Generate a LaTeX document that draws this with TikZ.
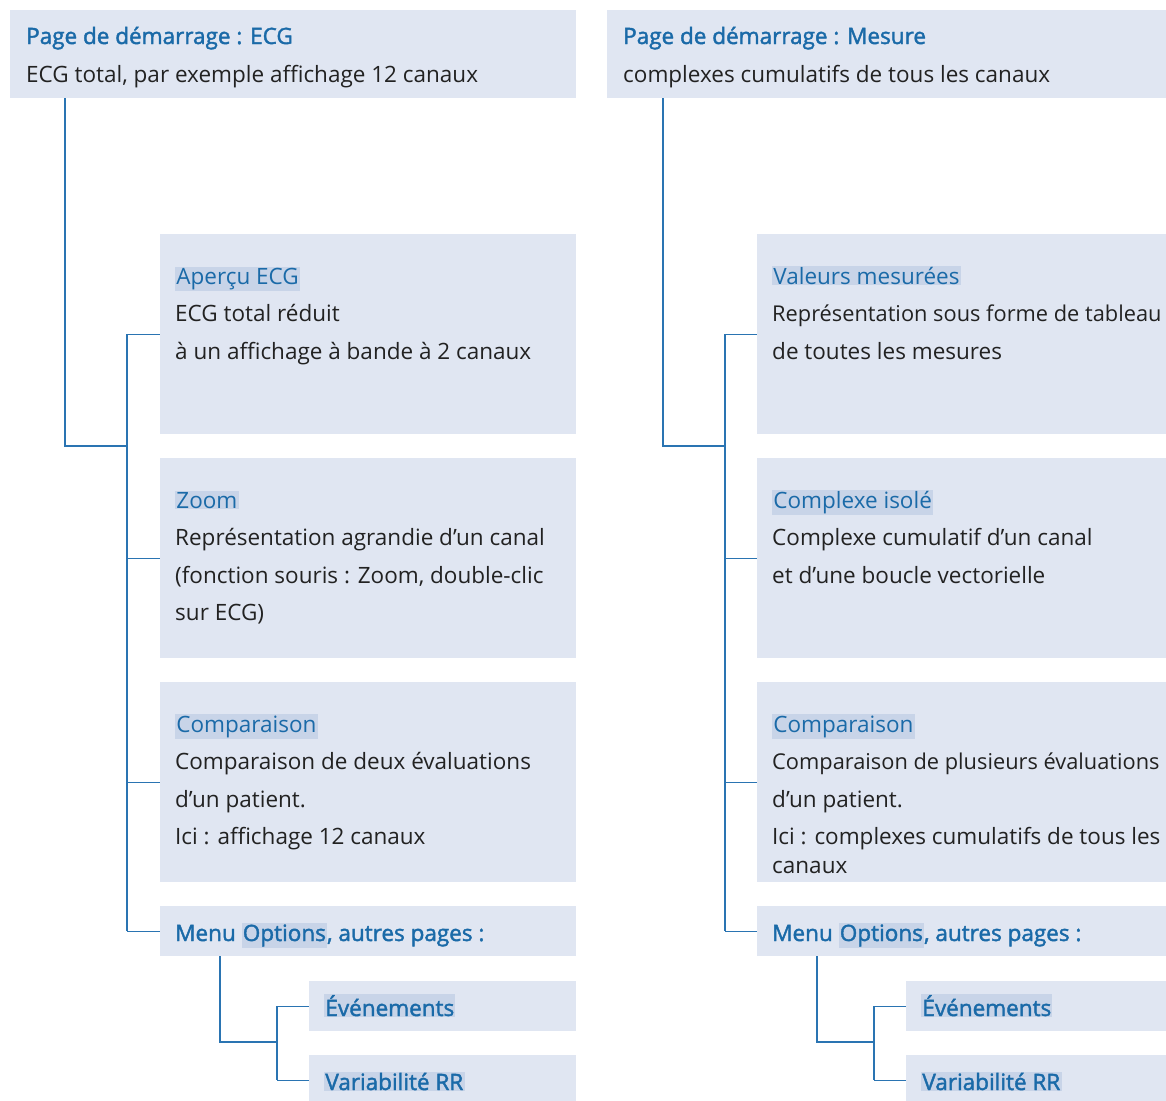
\documentclass[tikz,border=0pt]{standalone}
\usepackage{fontspec}
\setmainfont{Open Sans}
\newfontfamily\semibold[FakeBold=1.8]{Open Sans}
\usepackage{xcolor}
\usetikzlibrary{positioning}

\definecolor{panelfill}{HTML}{E0E6F2}
\definecolor{headfill}{HTML}{C8D4E8}
\definecolor{headblue}{HTML}{1A6AA8}
\definecolor{linkblue}{HTML}{2A74B2}
\definecolor{bodytext}{HTML}{222222}

\newcommand{\hlbox}[1]{{\setlength{\fboxsep}{1.2pt}\colorbox{headfill}{#1}}}
\newcommand{\tightline}[1]{{\fontsize{21.8pt}{37.5pt}\selectfont #1}}

\begin{document}
\begin{tikzpicture}[x=1pt, y=-1pt,
    panel/.style={fill=panelfill, inner sep=0pt, anchor=north west},
    txt/.style={inner sep=0pt, anchor=base west, align=left, text=bodytext,
        font=\fontsize{22.5pt}{37.5pt}\selectfont},
    head/.style={txt, text=headblue},
    link/.style={draw=linkblue, line width=1.4pt}]

    \useasboundingbox[fill=white] (0,0) rectangle (1166,1100);

    % =================================================================
    % COLONNE 1 : PAGE DE DEMARRAGE ECG
    % =================================================================
    \begin{scope}
        % Cadres
        \node[panel, minimum width=566, minimum height=88] (lstart) at (10,10) {};
        \node[panel, minimum width=416, minimum height=200] (lapercu) at (160,234) {};
        \node[panel, minimum width=416, minimum height=200] (lzoom) at (160,458) {};
        \node[panel, minimum width=416, minimum height=200] (lcomp) at (160,682) {};
        \node[panel, minimum width=416, minimum height=50] (lmenu) at (160,906) {};
        \node[panel, minimum width=267, minimum height=50] (levt) at (309,981) {};
        \node[panel, minimum width=267, minimum height=50] (lrr) at (309,1055) {};

        % Textes (ancre : ligne de base de la derniere ligne)
        \node[head] (lstart-t) at (26,44) {\semibold Page de démarrage : ECG};
        \node[txt] (lstart-b) at (26,82) {ECG total, par exemple affichage 12 canaux};
        \node[txt] (lapercu-t) at (175,359) {\textcolor{headblue}{\hlbox{Aperçu ECG}}\\
            ECG total réduit\\ à un affichage à bande à 2 canaux};
        \node[txt] (lzoom-t) at (175,620.5) {\textcolor{headblue}{\hlbox{Zoom}}\\
            Représentation agrandie d’un canal\\ (fonction souris : Zoom, double-clic\\ sur ECG)};
        \node[txt] (lcomp-t) at (175,844.5) {\textcolor{headblue}{\hlbox{Comparaison}}\\
            Comparaison de deux évaluations\\ d’un patient.\\ Ici : affichage 12 canaux};
        \node[head] (lmenu-t) at (175,941) {\semibold Menu \hlbox{Options}, autres pages :};
        \node[head] (levt-t) at (324,1016) {\semibold\hlbox{Événements}};
        \node[head] (lrr-t) at (324,1090) {\semibold\hlbox{Variabilité RR}};

        % Liaisons
        \coordinate (ljoin) at (127,446);
        \coordinate (lsub) at (277,1042);
        \draw[link] ([xshift=55]lstart.south west) |- (ljoin);
        \draw[link] (lapercu.west -| ljoin) -- (lmenu.west -| ljoin);
        \foreach \n in {lapercu, lzoom, lcomp, lmenu}
            \draw[link] (\n.west -| ljoin) -- (\n.west);
        \draw[link] ([xshift=60]lmenu.south west) |- (lsub);
        \draw[link] (levt.west -| lsub) -- (lrr.west -| lsub);
        \foreach \n in {levt, lrr}
            \draw[link] (\n.west -| lsub) -- (\n.west);
    \end{scope}

    % =================================================================
    % COLONNE 2 : PAGE DE DEMARRAGE MESURE
    % =================================================================
    \begin{scope}[xshift=597]
        % Cadres
        \node[panel, minimum width=570, minimum height=88] (rstart) at (10,10) {};
        \node[panel, minimum width=430, minimum height=200] (rvaleurs) at (160,234) {};
        \node[panel, minimum width=430, minimum height=200] (rcomplexe) at (160,458) {};
        \node[panel, minimum width=430, minimum height=200] (rcomp) at (160,682) {};
        \node[panel, minimum width=430, minimum height=50] (rmenu) at (160,906) {};
        \node[panel, minimum width=281, minimum height=50] (revt) at (309,981) {};
        \node[panel, minimum width=281, minimum height=50] (rrr) at (309,1055) {};

        % Textes
        \node[head] (rstart-t) at (26,44) {\semibold Page de démarrage : Mesure};
        \node[txt] (rstart-b) at (26,82) {complexes cumulatifs de tous les canaux};
        \node[txt] (rvaleurs-t) at (175,359) {\textcolor{headblue}{\hlbox{Valeurs mesurées}}\\
            \tightline{Représentation sous forme de tableau}\\ de toutes les mesures};
        \node[txt] (rcomplexe-t) at (175,583) {\textcolor{headblue}{\hlbox{Complexe isolé}}\\
            Complexe cumulatif d’un canal\\ et d’une boucle vectorielle};
        \node[txt] (rcomp-t) at (175,873.5) {\textcolor{headblue}{\hlbox{Comparaison}}\\
            \tightline{Comparaison de plusieurs évaluations}\\ d’un patient.\\
            Ici : complexes cumulatifs de tous les\\[-8.5pt] canaux};
        \node[head] (rmenu-t) at (175,941) {\semibold Menu \hlbox{Options}, autres pages :};
        \node[head] (revt-t) at (324,1016) {\semibold\hlbox{Événements}};
        \node[head] (rrr-t) at (324,1090) {\semibold\hlbox{Variabilité RR}};

        % Liaisons
        \coordinate (rjoin) at (128,446);
        \coordinate (rsub) at (277,1042);
        \draw[link] ([xshift=56]rstart.south west) |- (rjoin);
        \draw[link] (rvaleurs.west -| rjoin) -- (rmenu.west -| rjoin);
        \foreach \n in {rvaleurs, rcomplexe, rcomp, rmenu}
            \draw[link] (\n.west -| rjoin) -- (\n.west);
        \draw[link] ([xshift=60]rmenu.south west) |- (rsub);
        \draw[link] (revt.west -| rsub) -- (rrr.west -| rsub);
        \foreach \n in {revt, rrr}
            \draw[link] (\n.west -| rsub) -- (\n.west);
    \end{scope}

\end{tikzpicture}
\end{document}
